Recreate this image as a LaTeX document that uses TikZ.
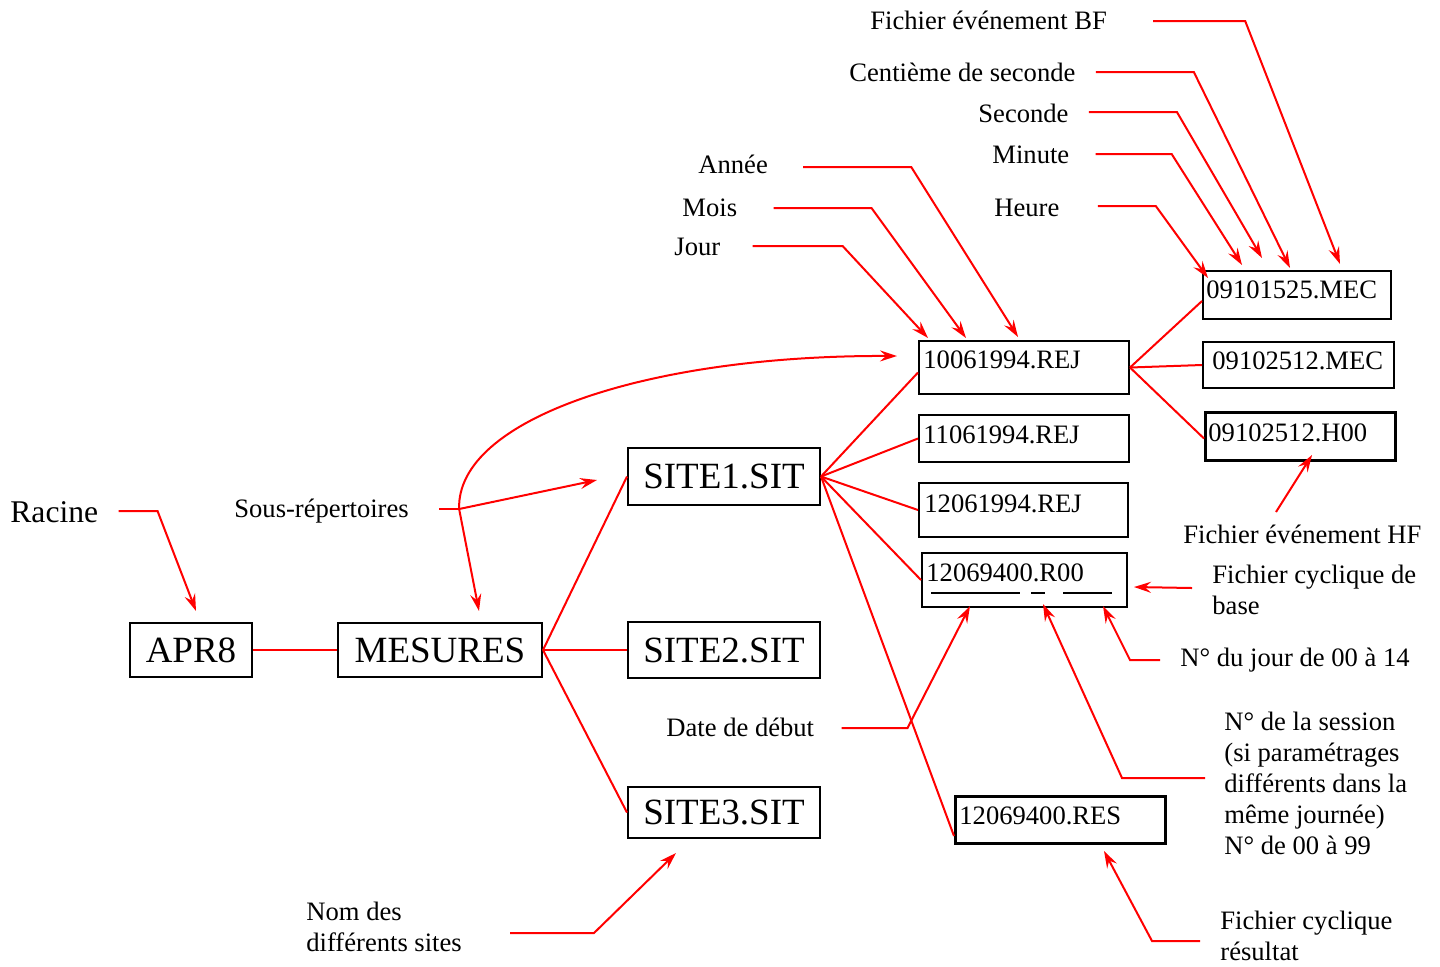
\documentclass[tikz,border=0pt]{standalone}
\usepackage{fontspec}
\setmainfont{Liberation Serif}
\usetikzlibrary{arrows.meta,calc}
\begin{document}
\begin{tikzpicture}[x=0.5pt,y=-0.5pt,
  lbl/.style={inner sep=0pt, anchor=base west, font=\fontsize{13.3}{15.5}\selectfont},
  mlbl/.style={inner sep=0pt, anchor=north west, align=left, font=\fontsize{13.3}{15.5}\selectfont},
  bigbox/.style={draw, line width=1pt, inner sep=0pt, font=\fontsize{18.5}{22}\selectfont},
  filebox/.style={draw, line width=1pt, inner sep=0pt, anchor=north west},
  thickbox/.style={filebox, line width=1.5pt},
  ftxt/.style={inner sep=0pt, anchor=base west, font=\fontsize{13.3}{15.5}\selectfont},
  link/.style={draw=red, line width=1pt},
  lead/.style={link, -{Stealth[length=8.5pt,width=5.5pt,inset=3pt]}},
  uline/.style={line width=1.3pt}
]
\useasboundingbox (0,0) rectangle (1440,966);

% main boxes
\node[bigbox, minimum width=61pt, minimum height=27pt] (apr) at (191,650) {APR8};
\node[bigbox, minimum width=102pt, minimum height=27pt] (mes) at (440,650) {MESURES};
\node[bigbox, minimum width=96pt, minimum height=28.5pt] (s1) at (724,476.5) {SITE1.SIT};
\node[bigbox, minimum width=96pt, minimum height=28pt] (s2) at (724,650) {SITE2.SIT};
\node[bigbox, minimum width=96pt, minimum height=25.5pt] (s3) at (724,812.5) {SITE3.SIT};

% file boxes
\node[filebox, minimum width=105pt, minimum height=26.5pt] (r1) at (918,340) {};
\node[ftxt] (r1t) at ($(r1.north west)+(5,28)$) {10061994.REJ};
\node[filebox, minimum width=105pt, minimum height=23.5pt] (r2) at (918,414) {};
\node[ftxt] (r2t) at ($(r2.north west)+(5,29)$) {11061994.REJ};
\node[filebox, minimum width=104.5pt, minimum height=27pt] (r3) at (918,482) {};
\node[ftxt] (r3t) at ($(r3.north west)+(6,30)$) {12061994.REJ};
\node[filebox, minimum width=102.5pt, minimum height=27pt] (r4) at (921,552) {};
\node[ftxt] (r4t) at ($(r4.north west)+(5,29)$) {12069400.R00};
\node[thickbox, minimum width=105pt, minimum height=23.5pt] (res) at (954,795) {};
\node[ftxt] (rest) at ($(res.north west)+(5,29)$) {12069400.RES};
\node[filebox, minimum width=94pt, minimum height=24pt] (m1) at (1202,270) {};
\node[ftxt] (m1t) at ($(m1.north west)+(4,28)$) {09101525.MEC};
\node[filebox, minimum width=95.5pt, minimum height=23pt] (m2) at (1202,341) {};
\node[ftxt] (m2t) at ($(m2.north west)+(10,28)$) {09102512.MEC};
\node[thickbox, minimum width=95pt, minimum height=24pt] (h00) at (1204,411) {};
\node[ftxt] (h00t) at ($(h00.north west)+(4,30)$) {09102512.H00};

% underlines
\draw[uline] ($(r4.north west)+(10,41)$) -- ++(89,0);
\draw[uline] ($(r4.north west)+(110,41)$) -- ++(14,0);
\draw[uline] ($(r4.north west)+(142,41)$) -- ++(49,0);

% labels
\node[lbl] (bf) at (870,29) {Fichier événement BF};
\node[lbl] (cent) at (849,81) {Centième de seconde};
\node[lbl] (sec) at (978,122) {Seconde};
\node[lbl] (minu) at (992,163) {Minute};
\node[lbl] (heure) at (994,216) {Heure};
\node[lbl] (annee) at (698,173) {Année};
\node[lbl] (mois) at (682,216) {Mois};
\node[lbl] (jour) at (674,255) {Jour};
\node[lbl, font=\fontsize{15.8}{18}\selectfont] (racine) at (10,522) {Racine};
\node[lbl] (sous) at (234,517) {Sous-répertoires};
\node[lbl] (date) at (666,736) {Date de début};
\node[lbl] (njour) at (1180,666) {N° du jour de 00 à 14};
\node[lbl] (fhf) at (1183,543) {Fichier événement HF};
\node[mlbl] (fcb) at (1212,565) {Fichier cyclique de\\base};
\node[mlbl] (ses) at (1224,712) {N° de la session\\(si paramétrages\\différents dans la\\même journée)\\N° de 00 à 99};
\node[mlbl] (fcr) at (1220,911) {Fichier cyclique\\résultat};
\node[mlbl] (nom) at (306,902) {Nom des\\différents sites};

% tree links
\draw[link] (apr) -- (mes);
\draw[link] (mes.east) -- (s1.west);
\draw[link] (mes.east) -- (s2.west);
\draw[link] (mes.east) -- (s3.west);
\draw[link] (s1.east) -- ($(r1.west)+(0,5)$);
\draw[link] (s1.east) -- (r2.west);
\draw[link] (s1.east) -- (r3.west);
\draw[link] (s1.east) -- (r4.west);
\draw[link] (s1.east) -- ($(res.south west)+(0,-9)$);
\draw[link] (r1.east) -- ($(m1.west)+(0,6)$);
\draw[link] (r1.east) -- (m2.west);
\draw[link] (r1.east) -- ($(h00.west)+(0,2)$);

% leaders
\draw[lead] ($(bf.base east)+(46,-8)$) -- ++(92,0) -- ($(m1.north west)+(138,-6)$);
\draw[lead] ($(cent.base east)+(20,-9)$) -- ++(98,0) -- ($(m1.north west)+(88,-2)$);
\draw[lead] ($(sec.base east)+(20,-10)$) -- ++(88,0) -- ($(m1.north west)+(60,-12)$);
\draw[lead] ($(minu.base east)+(26,-9)$) -- ++(76,0) -- ($(m1.north west)+(40,-5)$);
\draw[lead] ($(heure.base east)+(38,-10)$) -- ++(58,0) -- ($(m1.north west)+(6,8)$);
\draw[lead] ($(annee.base east)+(35,-6)$) -- ++(108,0) -- ($(r1.north west)+(100,-3)$);
\draw[lead] ($(mois.base east)+(36,-8)$) -- ++(98,0) -- ($(r1.north west)+(48,-2)$);
\draw[lead] ($(jour.base east)+(32,-9)$) -- ++(90,0) -- ($(r1.north west)+(10,-2)$);
\draw[lead] ($(racine.base east)+(20,-11)$) -- ++(39,0) -- ($(apr.north)+(5,-11)$);

\draw[link] ($(sous.base east)+(30,-8)$) -- ++(20,0) coordinate (sj);
\draw[lead] (sj) -- ($(s1.west)+(-30,3.5)$);
\draw[lead] (sj) -- ($(mes.north)+(39,-11)$);
\draw[lead] (sj) .. controls ($(sj)+(-3,-90)$) and ($(r1.west)+(-270,-12.5)$) .. ($(r1.west)+(-21,-11.5)$);

\draw[lead] ($(date.base east)+(27,-8)$) -- ++(66,0) -- ($(r4.south west)+(49,-2)$);
\draw[lead] ($(njour.base west)+(-20,-6)$) -- ++(-30,0) -- ($(r4.south east)+(-25,-2)$);
\draw[lead] ($(fhf.base west)+(93,-31)$) -- ($(h00.south west)+(108,-7)$);
\draw[lead] ($(fcb.north west)+(-20,23)$) -- ($(r4.east)+(6,7)$);
\draw[lead] ($(ses.north west)+(-19,66)$) -- ++(-83,0) -- ($(r4.south west)+(122,-4)$);
\draw[lead] ($(fcr.north west)+(-20,30)$) -- ++(-48,0) -- ($(res.south west)+(150,6)$);
\draw[lead] ($(nom.north west)+(204,31)$) -- ++(84,0) -- ($(s3.south)+(-48,14)$);
\end{tikzpicture}
\end{document}
